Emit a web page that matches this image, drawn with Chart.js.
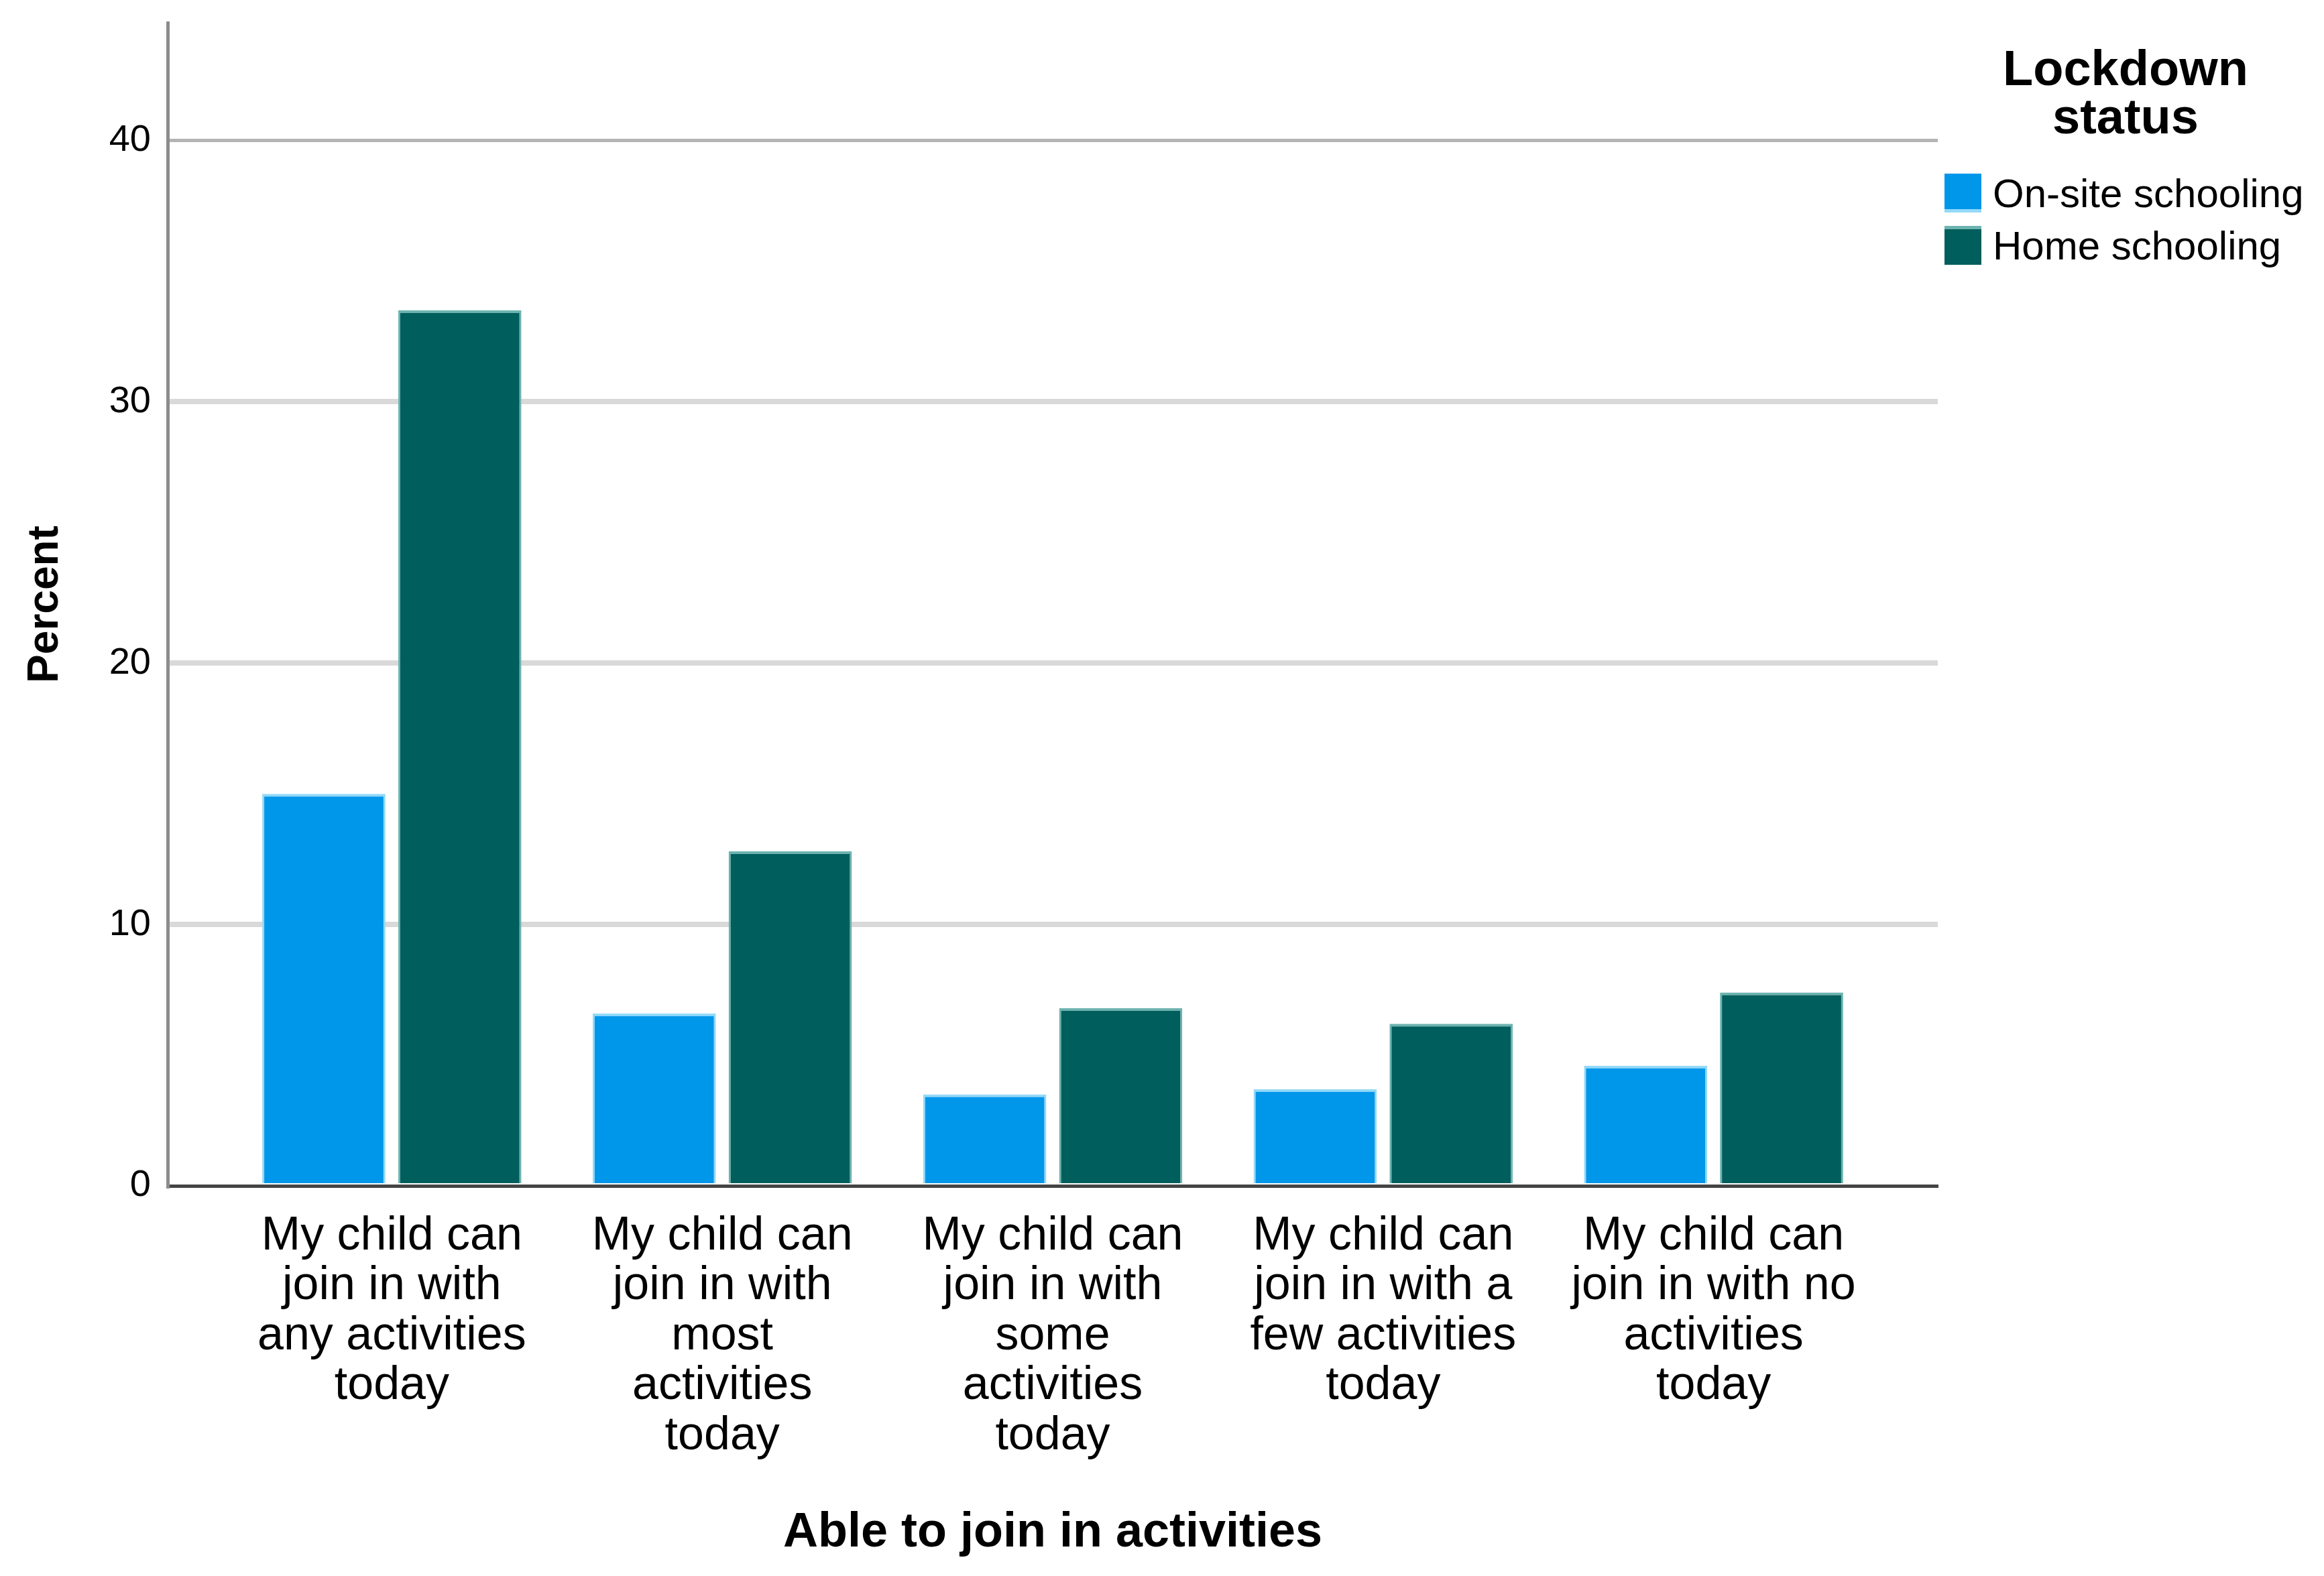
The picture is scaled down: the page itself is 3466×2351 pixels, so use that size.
<!DOCTYPE html>
<html>
<head>
<meta charset="utf-8">
<script src="https://cdn.jsdelivr.net/npm/chart.js@4.4.1/dist/chart.umd.min.js"></script>
<style>
  html, body { margin: 0; padding: 0; background: #ffffff; }
  #wrap { width: 3466px; height: 2351px; position: relative; }
</style>
</head>
<body>
<div id="wrap"><canvas id="c" width="3466" height="2351"></canvas></div>
<script>
// ---- data ----
const categories = [
  ["My child can", "join in with", "any activities", "today"],
  ["My child can", "join in with", "most", "activities", "today"],
  ["My child can", "join in with", "some", "activities", "today"],
  ["My child can", "join in with a", "few activities", "today"],
  ["My child can", "join in with no", "activities", "today"]
];
const seriesNames = ["On-site schooling", "Home schooling"];
const onSite = [15.0, 6.6, 3.5, 3.7, 4.6];
const homeSchool = [33.5, 12.8, 6.8, 6.2, 7.4];
const yTicks = [0, 10, 20, 30, 40];
const legendTitle = ["Lockdown", "status"];
const xTitle = "Able to join in activities";
const yTitle = "Percent";

const FONT = "'Liberation Sans', Arial, sans-serif";
Chart.defaults.font.family = FONT;
Chart.defaults.color = '#000';

const colors = ['#0096ea', '#005e5c'];
const borderColors = ['#93d9f7', '#6db3af'];

const toPoints = arr => arr.map((v, i) => ({ x: i, y: v }));

const legendPlugin = {
  id: 'spssLegend',
  afterDraw(chart) {
    const ctx = chart.ctx;
    ctx.save();
    ctx.fillStyle = '#000';
    ctx.textAlign = 'center';
    ctx.textBaseline = 'middle';
    ctx.font = "bold 74px " + FONT;
    legendTitle.forEach((t, i) => ctx.fillText(t, 3170, 107 + i * 72));
    chart.data.datasets.forEach((ds, i) => {
      const top = 259 + i * 78;
      ctx.fillStyle = ds.backgroundColor;
      ctx.fillRect(2900, top, 55, 58);
      ctx.fillStyle = ds.borderColor;
      ctx.fillRect(2900, i === 0 ? top + 53 : top, 55, 5);
      ctx.fillStyle = '#000';
      ctx.textAlign = 'left';
      ctx.font = "60px " + FONT;
      ctx.fillText(ds.label, 2972, top + 33);
    });
    ctx.restore();
  }
};

new Chart(document.getElementById('c'), {
  type: 'bar',
  data: {
    datasets: [
      {
        label: seriesNames[0],
        data: toPoints(onSite),
        backgroundColor: colors[0],
        borderColor: borderColors[0],
        borderWidth: { top: 4, left: 3, right: 3, bottom: 0 },
        categoryPercentage: 0.823,
        barPercentage: 0.906
      },
      {
        label: seriesNames[1],
        data: toPoints(homeSchool),
        backgroundColor: colors[1],
        borderColor: borderColors[1],
        borderWidth: { top: 4, left: 3, right: 3, bottom: 0 },
        categoryPercentage: 0.823,
        barPercentage: 0.906
      }
    ]
  },
  options: {
    responsive: false,
    animation: false,
    devicePixelRatio: 1,
    layout: { padding: { left: 0, right: 576, top: 34, bottom: 0 } },
    plugins: {
      legend: { display: false },
      tooltip: { enabled: false }
    },
    scales: {
      x: {
        type: 'linear',
        offset: false,
        min: -0.6785,
        max: 4.6785,
        afterBuildTicks: (scale) => { scale.ticks = categories.map((c, i) => ({ value: i })); },
        afterFit: (scale) => { scale.height = 582; scale.paddingLeft = 0; scale.paddingRight = 0; },
        grid: { display: false, drawTicks: false, offset: false },
        border: { display: true, color: '#444444', width: 5 },
        ticks: {
          autoSkip: false,
          maxRotation: 0,
          minRotation: 0,
          padding: 38,
          font: { size: 70, lineHeight: 1.065 },
          color: '#000',
          callback: (value) => categories[value]
        },
        title: {
          display: true,
          text: xTitle,
          font: { size: 72, weight: 'bold', lineHeight: 1.2 },
          color: '#000',
          padding: { top: 0, bottom: 21 }
        }
      },
      y: {
        min: 0,
        max: 44.5,
        afterBuildTicks: (scale) => { scale.ticks = yTicks.map(v => ({ value: v })); },
        afterFit: (scale) => { scale.width = 250; scale.paddingTop = 0; scale.paddingBottom = 0; },
        grid: {
          drawTicks: false,
          color: (ctx) => ctx.tick && ctx.tick.value === 0 ? 'rgba(0,0,0,0)' : (ctx.tick && ctx.tick.value === 40 ? '#b4b4b4' : '#d9d9d9'),
          lineWidth: (ctx) => ctx.tick && ctx.tick.value === 40 ? 5 : 8
        },
        border: { display: true, color: '#8c8c8c', width: 5 },
        ticks: {
          padding: 25,
          font: { size: 56 },
          color: '#000',
          callback: (v) => String(v)
        },
        title: {
          display: true,
          text: yTitle,
          font: { size: 64, weight: 'bold', lineHeight: 1.2 },
          color: '#000',
          padding: { top: 30, bottom: 0 }
        }
      }
    }
  },
  plugins: [legendPlugin]
});
</script>
</body>
</html>
